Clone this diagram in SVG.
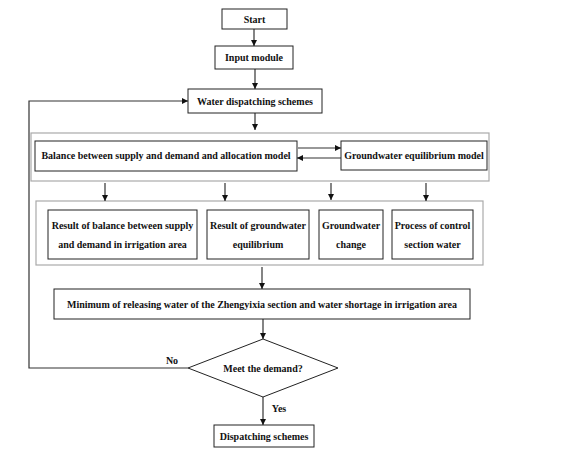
<svg xmlns="http://www.w3.org/2000/svg" width="566" height="458" viewBox="0 0 566 458">
<style>
.box{fill:#fff;stroke:#222;stroke-width:1}
.group{fill:none;stroke:#aaa;stroke-width:1.2}
.ln{fill:none;stroke:#333;stroke-width:1.2}
text{font-family:"Liberation Serif","Times New Roman",serif;font-weight:bold;font-size:10px;fill:#111;text-anchor:middle}
</style>
<defs>
<marker id="ah" viewBox="0 0 10 10" refX="10" refY="5" markerWidth="6" markerHeight="6" markerUnits="userSpaceOnUse" orient="auto">
<path d="M0,0 L10,5 L0,10 z" fill="#111"/>
</marker>
</defs>
<rect width="566" height="458" fill="#fff"/>
<g id="groups">
<rect class="group" x="31" y="133" width="458" height="48"/>
<rect class="group" x="36" y="201" width="447" height="64"/>
</g>
<g id="connectors">
<line class="ln" x1="254" y1="29" x2="254" y2="46" marker-end="url(#ah)"/>
<line class="ln" x1="255" y1="69" x2="255" y2="89" marker-end="url(#ah)"/>
<line class="ln" x1="255" y1="113" x2="255" y2="130" marker-end="url(#ah)"/>
<line class="ln" x1="298" y1="148" x2="341" y2="148" marker-end="url(#ah)"/>
<line class="ln" x1="341" y1="158" x2="297" y2="158" marker-end="url(#ah)"/>
<line class="ln" x1="105" y1="183" x2="105" y2="201" marker-end="url(#ah)"/>
<line class="ln" x1="225" y1="183" x2="225" y2="201" marker-end="url(#ah)"/>
<line class="ln" x1="331" y1="183" x2="331" y2="200" marker-end="url(#ah)"/>
<line class="ln" x1="426" y1="183" x2="426" y2="201" marker-end="url(#ah)"/>
<line class="ln" x1="262" y1="267" x2="262" y2="289" marker-end="url(#ah)"/>
<line class="ln" x1="263" y1="319" x2="263" y2="339" marker-end="url(#ah)"/>
<line class="ln" x1="263" y1="397" x2="263" y2="425" marker-end="url(#ah)"/>
<polyline class="ln" points="188,368 29,368 29,101 188,101" marker-end="url(#ah)"/>
<text x="172" y="364">No</text>
<text x="279" y="412">Yes</text>
</g>
<g id="start">
<rect class="box" x="222" y="9" width="65" height="20"/>
<text x="254.5" y="22.5">Start</text>
</g>
<g id="input">
<rect class="box" x="215" y="46" width="78" height="23"/>
<text x="254" y="61">Input module</text>
</g>
<g id="water">
<rect class="box" x="188" y="89" width="134" height="24"/>
<text x="255" y="104.5">Water dispatching schemes</text>
</g>
<g id="balance">
<rect class="box" x="35" y="141" width="262" height="30"/>
<text x="166" y="158.5">Balance between supply and demand and allocation model</text>
</g>
<g id="gwmodel">
<rect class="box" x="341" y="141" width="146" height="29"/>
<text x="414" y="159">Groundwater equilibrium model</text>
</g>
<g id="r1">
<rect class="box" x="48" y="210" width="149" height="49"/>
<text x="122.5" y="228.5">Result of balance between supply</text>
<text x="122.5" y="248">and demand in irrigation area</text>
</g>
<g id="r2">
<rect class="box" x="207" y="210" width="102" height="49"/>
<text x="258" y="228.5">Result of groundwater</text>
<text x="258" y="248">equilibrium</text>
</g>
<g id="r3">
<rect class="box" x="319" y="210" width="64" height="49"/>
<text x="351" y="228.5">Groundwater</text>
<text x="351" y="248">change</text>
</g>
<g id="r4">
<rect class="box" x="392" y="210" width="81" height="49"/>
<text x="432.5" y="228.5">Process of control</text>
<text x="432.5" y="248">section water</text>
</g>
<g id="minimum">
<rect class="box" x="54" y="289" width="416" height="30"/>
<text x="262" y="307.5">Minimum of releasing water of the Zhengyixia section and water shortage in irrigation area</text>
</g>
<g id="decision">
<polygon class="box" points="263,339 338,368 263,397 188,368"/>
<text x="263" y="371.5">Meet the demand?</text>
</g>
<g id="dispatch">
<rect class="box" x="214" y="425" width="100" height="22"/>
<text x="264" y="439.5">Dispatching schemes</text>
</g>
</svg>
